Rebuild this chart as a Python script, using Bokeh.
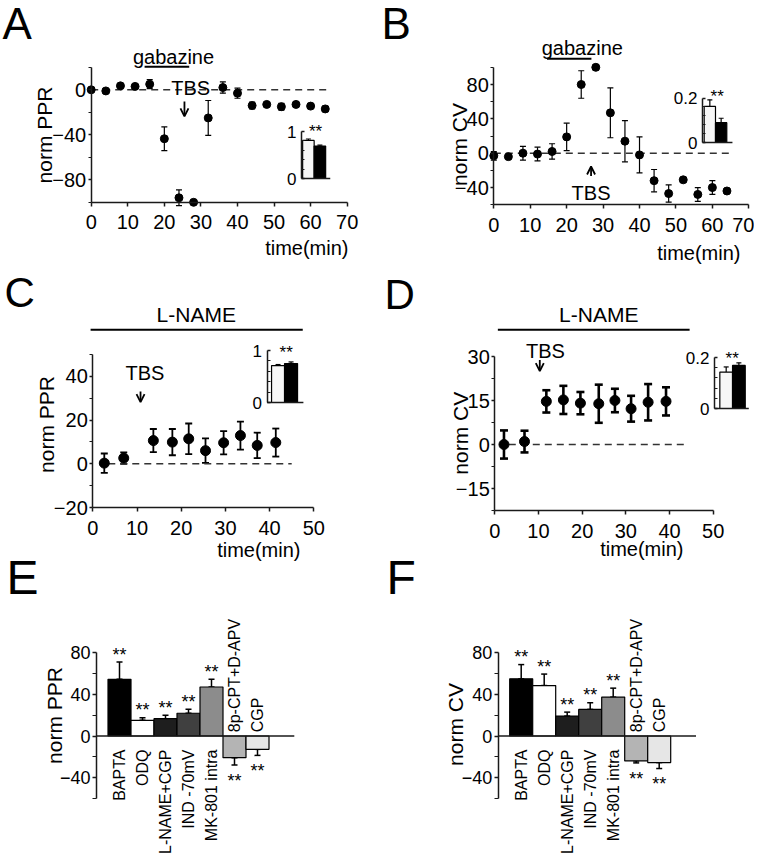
import math
from bokeh.plotting import figure
from bokeh.models import (Range1d, LinearAxis, FixedTicker, Whisker, ColumnDataSource,
                          Arrow, OpenHead, TeeHead)
from bokeh.core.properties import value
from bokeh.embed import file_html
from bokeh.resources import INLINE

FONT = "Liberation Sans"

# ---------------- data ----------------
A_TIME = [0, 4, 8, 12, 16, 20, 24, 28, 32, 36, 40, 44, 48, 52, 56, 60, 64]
A_PPR = [0, -1, 3.5, 3, 5, -43.5, -96, -100, -25, 2, -3, -14, -13, -15, -13, -14.5, -17]
A_ERR = [0, 0, 0, 0, 4, 10.5, 7, 0, 15.5, 5, 4.5, 3, 1, 3, 2, 2, 2.5]
A_INSET = [0.81, 0.69]
A_INSET_ERR = [0.03, 0.02]

B_TIME = [0, 4, 8, 12, 16, 20, 24, 28, 32, 36, 40, 44, 48, 52, 56, 60, 64]
B_CV = [-3, -4, 0, -1, 2, 19, 80, 100, 47, 14, -2, -32, -47, -31, -48, -40, -44]
B_ERR = [5, 2, 8, 8, 9, 16, 16, 3, 29, 24, 21, 13, 10, 3, 8, 8, 3]
B_INSET = [0.162, 0.089]
B_INSET_ERR = [0.03, 0.02]

C_TIME = [2.6, 7.0, 13.7, 18.0, 21.7, 25.5, 29.6, 33.4, 37.2, 41.4]
C_PPR = [0.3, 2.6, 10.6, 9.9, 11.4, 6.0, 9.6, 12.9, 8.4, 9.7]
C_ERR = [4.4, 2.6, 5.3, 6.0, 7.0, 5.6, 5.3, 6.4, 5.8, 6.4]
C_INSET = [0.71, 0.75]
C_INSET_ERR = [0.02, 0.03]

D_TIME = [2.1, 6.8, 11.8, 15.7, 19.6, 23.8, 27.5, 31.2, 35.1, 39.2]
D_CV = [0.0, 1.0, 14.7, 15.2, 14.1, 13.9, 15.0, 12.2, 14.4, 14.7]
D_ERR = [4.8, 3.7, 3.8, 4.8, 3.8, 6.5, 4.0, 4.4, 6.2, 4.8]
D_INSET = [0.143, 0.169]
D_INSET_ERR = [0.02, 0.01]

CATEGORIES = ["BAPTA", "ODQ", "L-NAME+CGP", "IND -70mV", "MK-801 intra", "8p-CPT+D-APV", "CGP"]
E_PPR = [54.4, 15.0, 16.6, 21.8, 47.0, -20.8, -12.8]
E_ERR = [16.6, 2.6, 3.2, 3.8, 7.4, 7.0, 5.8]
F_CV = [54.8, 48.4, 19.1, 25.5, 37.3, -23.9, -25.5]
F_ERR = [13.7, 11.0, 3.8, 6.4, 8.6, 1.9, 5.7]
BAR_COLORS = ["#000000", "#ffffff", "#1e1e1e", "#404040", "#8c8c8c", "#b4b4b4", "#e6e6e6"]

GABAZINE = (14.6, 26.8)      # min
TBS_A, TBS_B, TBS_C, TBS_D = 25.5, 26.7, 10.8, 10.3
LNAME_C = (-0.5, 47.5)
LNAME_D = (0.7, 44.6)

TIME_TICKS_70 = [0, 10, 20, 30, 40, 50, 60, 70]
TIME_TICKS_50 = [0, 10, 20, 30, 40, 50]

# ---------------- canvas / scales ----------------
FL, FR, FT, FB = 0, 754, 0, 856
W, H = FR - FL, FB - FT


def xr(v0, p0, v1, p1):
    s = (p1 - p0) / (v1 - v0)
    return Range1d(start=v0 - (p0 - FL) / s, end=v0 + (FR - p0) / s)


def yr(v0, p0, v1, p1):
    s = (p0 - p1) / (v1 - v0)
    return Range1d(start=v0 - (FB - p0) / s, end=v0 + (p0 - FT) / s)


p = figure(width=W, height=H, x_range=Range1d(FL, FR), y_range=Range1d(FB, FT),
           x_axis_type=None, y_axis_type=None, output_backend="svg",
           toolbar_location=None, min_border=0, outline_line_color=None)
p.background_fill_color = "white"
p.border_fill_color = "white"

p.extra_x_ranges = {
    "ax": xr(0, 90.7, 70, 346.7), "aix": xr(0, 301, 1, 312.5),
    "bx": xr(0, 493.3, 70, 748.3), "bix": xr(0, 702, 1, 713.3),
    "cx": xr(0, 92.3, 50, 313.3), "cix": xr(0, 266.5, 1, 279.5),
    "dx": xr(0, 494.3, 50, 712.7), "dix": xr(0, 714, 1, 726.7),
    "ex": xr(0, 96, 1, 119), "fx": xr(0, 497.7, 1, 520.7),
}
p.extra_y_ranges = {
    "ay": yr(0, 89.3, -80, 179.3), "aiy": yr(0, 178, 1, 131),
    "by": yr(0, 152.7, 80, 84), "biy": yr(0, 142, 0.2, 97.5),
    "cy": yr(0, 463.3, 40, 375.7), "ciy": yr(0, 402, 1, 350),
    "dy": yr(0, 444, 30, 356), "diy": yr(0, 408, 0.2, 357),
    "ey": yr(0, 735.5, 40, 693.8), "fy": yr(0, 735.5, 40, 693.8),
}

AX_COLOR = "#1a1a1a"


def yaxis(xn, yn, loc, bounds, ticks, minor, size="20px", tin=0, tout=3, mtin=0, mtout=3,
          overrides=None, standoff=2):
    ax = LinearAxis(x_range_name=xn, y_range_name=yn, fixed_location=loc, bounds=bounds,
                    ticker=FixedTicker(ticks=ticks, minor_ticks=minor),
                    major_tick_in=tin, major_tick_out=tout, minor_tick_in=mtin, minor_tick_out=mtout,
                    major_label_text_font=FONT, major_label_text_font_size=size,
                    major_label_text_color="black", major_label_standoff=standoff,
                    axis_line_width=1.5, axis_line_color=AX_COLOR,
                    major_tick_line_width=1.5, major_tick_line_color=AX_COLOR,
                    minor_tick_line_width=1.2, minor_tick_line_color=AX_COLOR)
    if overrides:
        ax.major_label_overrides = overrides
    p.add_layout(ax, "left")
    return ax


def xaxis(xn, yn, loc, bounds, ticks, size="20px"):
    ax = LinearAxis(x_range_name=xn, y_range_name=yn, fixed_location=loc, bounds=bounds,
                    ticker=FixedTicker(ticks=ticks, minor_ticks=[]),
                    major_tick_in=0, major_tick_out=4, minor_tick_in=0, minor_tick_out=0,
                    major_label_text_font=FONT, major_label_text_font_size=size,
                    major_label_text_color="black", major_label_standoff=9,
                    axis_line_width=1.5, axis_line_color=AX_COLOR,
                    major_tick_line_width=1.5, major_tick_line_color=AX_COLOR)
    p.add_layout(ax, "below")
    return ax


def text(x, y, s, size, xn="default", yn="default", align="center", baseline="middle",
         angle=0.0, color="black"):
    p.text(x=x if isinstance(x, list) else [x], y=y if isinstance(y, list) else [y],
           text=s if isinstance(s, list) else [s],
           text_font=value(FONT), text_font_size=size, text_align=align,
           text_baseline=baseline, angle=angle, text_color=color,
           x_range_name=xn, y_range_name=yn)


def errbars(xs, ys, es, xn, yn, lw, cap):
    src = ColumnDataSource(dict(base=xs, upper=[y + e for y, e in zip(ys, es)],
                                lower=[y - e for y, e in zip(ys, es)]))
    w = Whisker(source=src, base="base", upper="upper", lower="lower", dimension="height",
                x_range_name=xn, y_range_name=yn, line_width=lw, line_color="black",
                upper_head=TeeHead(size=cap, line_width=lw, line_color="black"),
                lower_head=TeeHead(size=cap, line_width=lw, line_color="black"))
    p.add_layout(w)


def dashed(x0, x1, xn, yn):
    p.line(x=[x0, x1], y=[0, 0], line_dash="7 5", line_width=1.5, line_color="#333333",
           x_range_name=xn, y_range_name=yn)


def arrow(x, y0, y1, xn, yn):
    p.add_layout(Arrow(x_start=x, y_start=y0, x_end=x, y_end=y1, line_width=1.8,
                       end=OpenHead(size=8, line_width=1.8), x_range_name=xn, y_range_name=yn))


def inset(vals, errs, xn, yn, off, top, end, labels, star_xy):
    xs = [i + off for i in range(len(vals))]
    errbars(xs, vals, errs, xn, yn, 1.2, 5)
    p.vbar(x=xs, top=vals, bottom=0, width=1.0, fill_color=["#f7f7f7", "#000000"],
           line_color="black", line_width=1.2, x_range_name=xn, y_range_name=yn)
    p.line(x=[0, end], y=[0, 0], line_color=AX_COLOR, line_width=1.5,
           x_range_name=xn, y_range_name=yn)
    yaxis(xn, yn, 0, (0, top), [0, top], [top * k / 5 for k in range(1, 5)], size="17px",
          tin=3, tout=0, mtin=3, mtout=0, overrides=labels, standoff=5)
    text(star_xy[0], star_xy[1], "**", "17px")


# ---------------- panel letters ----------------
text(2, 22.5, "A", "44px", align="left")
text(381, 22.5, "B", "44px", align="left")
text(4, 292, "C", "42px", align="left")
text(384, 294, "D", "42px", align="left")
text(6, 576.5, "E", "48px", align="left")
text(386, 576.5, "F", "48px", align="left")

# ---------------- Panel A ----------------
dashed(0, 65.4, "ax", "ay")
errbars(A_TIME, A_PPR, A_ERR, "ax", "ay", 1.2, 6)
p.scatter(x=A_TIME, y=A_PPR, size=8, color="black", x_range_name="ax", y_range_name="ay")
yaxis("ax", "ay", 0, (-100, 20), [-80, -40, 0], [-100, -60, -20, 20])
xaxis("ax", "ay", -100, (0, 70), TIME_TICKS_70)
p.line(x=list(GABAZINE), y=[20.5, 20.5], line_width=2, line_color="black", x_range_name="ax", y_range_name="ay")
text(22.5, 29.6, "gabazine", "20px", "ax", "ay")
text(27.2, 1.2, "TBS", "20px", "ax", "ay")
arrow(TBS_A, -10.5, -23.7, "ax", "ay")
text(348, 247, "time(min)", "20px", align="right")
text(44, 134.5, "norm PPR", "21px", angle=math.pi / 2)
inset(A_INSET, A_INSET_ERR, "aix", "aiy", 0.6, 1, 2.5, {0: "0", 1: "1"}, (315, 131))

# ---------------- Panel B ----------------
dashed(0, 65.5, "bx", "by")
errbars(B_TIME, B_CV, B_ERR, "bx", "by", 1.2, 6)
p.scatter(x=B_TIME, y=B_CV, size=8, color="black", x_range_name="bx", y_range_name="by")
yaxis("bx", "by", 0, (-60, 100), [-40, 0, 40, 80], [-60, -20, 20, 60, 100])
xaxis("bx", "by", -60, (0, 70), TIME_TICKS_70)
p.line(x=list(GABAZINE), y=[110, 110], line_width=2, line_color="black", x_range_name="bx", y_range_name="by")
text(24.3, 122.5, "gabazine", "20px", "bx", "by")
text(TBS_B, -46.4, "TBS", "20px", "bx", "by")
arrow(TBS_B, -26.5, -15.5, "bx", "by")
text(740, 252.5, "time(min)", "20px", align="right")
text(459, 144, "norm CV", "21px", angle=math.pi / 2)
inset(B_INSET, B_INSET_ERR, "bix", "biy", 0.65, 0.2, 2.65, {0: "0", 0.2: "0.2"}, (716.7, 96))

# ---------------- Panel C ----------------
dashed(3.5, 45, "cx", "cy")
errbars(C_TIME, C_PPR, C_ERR, "cx", "cy", 1.8, 7)
p.scatter(x=C_TIME, y=C_PPR, size=10, color="black", x_range_name="cx", y_range_name="cy")
yaxis("cx", "cy", 0, (-20, 50), [-20, 0, 20, 40], [-10, 10, 30, 50])
xaxis("cx", "cy", -20, (0, 50), TIME_TICKS_50)
p.line(x=list(LNAME_C), y=[61.2, 61.2], line_width=2, line_color="black", x_range_name="cx", y_range_name="cy")
text(23.4, 68.1, "L-NAME", "21px", "cx", "cy")
text(11.8, 41.5, "TBS", "20px", "cx", "cy")
arrow(TBS_C, 33.0, 28.2, "cx", "cy")
text(300, 549, "time(min)", "20px", align="right")
text(45.7, 424, "norm PPR", "21px", angle=math.pi / 2)
inset(C_INSET, C_INSET_ERR, "cix", "ciy", 0.85, 1, 2.8, {0: "0", 1: "1"}, (285.7, 352))

# ---------------- Panel D ----------------
dashed(3.2, 43.3, "dx", "dy")
errbars(D_TIME, D_CV, D_ERR, "dx", "dy", 2.6, 8)
p.scatter(x=D_TIME, y=D_CV, size=10, color="black", x_range_name="dx", y_range_name="dy")
yaxis("dx", "dy", 0, (-22.5, 30), [-15, 0, 15, 30], [-22.5, -7.5, 7.5, 22.5])
xaxis("dx", "dy", -22.5, (0, 50), TIME_TICKS_50)
p.line(x=list(LNAME_D), y=[39.1, 39.1], line_width=2, line_color="black", x_range_name="dx", y_range_name="dy")
text(23.8, 44.3, "L-NAME", "21px", "dx", "dy")
text(11.6, 32.0, "TBS", "20px", "dx", "dy")
arrow(TBS_D, 28.8, 25.0, "dx", "dy")
text(683, 548, "time(min)", "20px", align="right")
text(460, 432.7, "norm CV", "21px", angle=math.pi / 2)
inset(D_INSET, D_INSET_ERR, "dix", "diy", 0.92, 0.2, 2.7, {0: "0", 0.2: "0.2"}, (731.7, 358))


# ---------------- Panels E / F ----------------
def bar_panel(vals, errs, xn, yn, ylabel, label_xy):
    xs = [i + 1 for i in range(len(vals))]
    up = [v + e if v >= 0 else v for v, e in zip(vals, errs)]
    lo = [v if v >= 0 else v - e for v, e in zip(vals, errs)]
    src = ColumnDataSource(dict(base=xs, upper=up, lower=lo))
    p.add_layout(Whisker(source=src, base="base", upper="upper", lower="lower", dimension="height",
                         x_range_name=xn, y_range_name=yn, line_width=1.5, line_color="black",
                         upper_head=TeeHead(size=6, line_width=1.5),
                         lower_head=TeeHead(size=6, line_width=1.5)))
    p.vbar(x=xs, top=vals, bottom=0, width=1.0, fill_color=BAR_COLORS, line_color="black",
           line_width=1.2, x_range_name=xn, y_range_name=yn)
    p.line(x=[0, 8.6], y=[0, 0], line_color=AX_COLOR, line_width=1.5, x_range_name=xn, y_range_name=yn)
    yaxis(xn, yn, 0, (-60, 80), [-40, 0, 40, 80], [-60, -20, 20, 60], size="18px", tout=4, mtout=4)
    pos = [i for i, v in enumerate(vals) if v >= 0]
    neg = [i for i, v in enumerate(vals) if v < 0]
    text([xs[i] for i in pos], [-13] * len(pos), [CATEGORIES[i] for i in pos], "16px", xn, yn,
         align="right", angle=math.pi / 2)
    text([xs[i] for i in neg], [3.6] * len(neg), [CATEGORIES[i] for i in neg], "16px", xn, yn,
         align="left", angle=math.pi / 2)
    text([xs[i] for i in pos], [up[i] + 7 for i in pos], ["**"] * len(pos), "18px", xn, yn)
    text([xs[i] for i in neg], [lo[i] - 15 for i in neg], ["**"] * len(neg), "18px", xn, yn)
    text(label_xy[0], label_xy[1], ylabel, "21px", angle=math.pi / 2)


bar_panel(E_PPR, E_ERR, "ex", "ey", "norm PPR", (54, 715))
bar_panel(F_CV, F_ERR, "fx", "fy", "norm CV", (454.5, 724))

open("out.html", "w").write(file_html(p, INLINE, title="figure"))
